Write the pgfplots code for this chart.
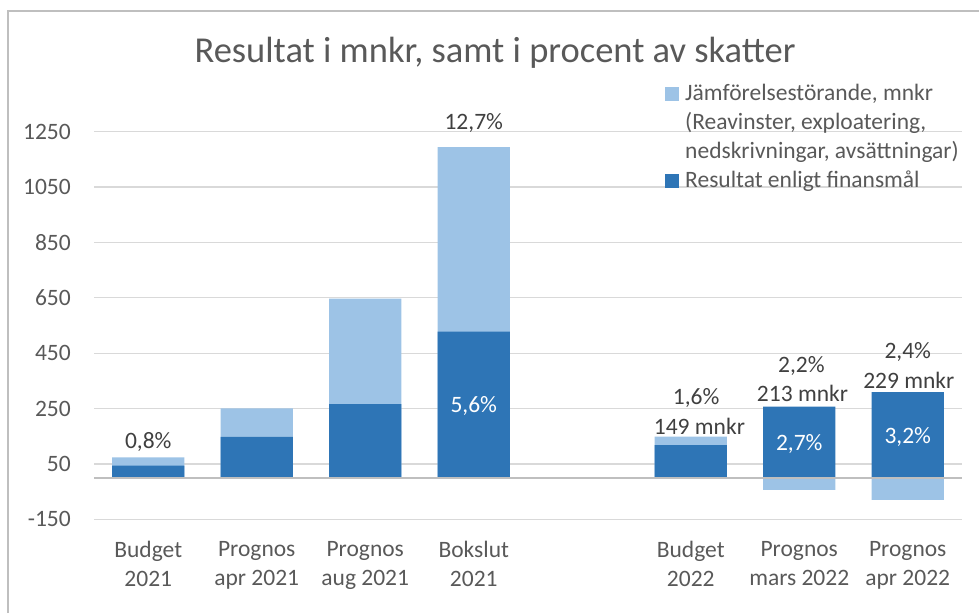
\documentclass[border=0pt]{standalone}
\usepackage{fontspec}
\setmainfont{Carlito}
\usepackage{pgfplots}
\pgfplotsset{compat=1.18}
\usepackage{pgfplotstable}
\definecolor{darkblue}{HTML}{2E75B6}
\definecolor{lightblue}{HTML}{9DC3E6}
\definecolor{txt}{HTML}{595959}
\definecolor{lbl}{HTML}{404040}
\definecolor{gridc}{HTML}{D9D9D9}
\definecolor{zeroc}{HTML}{BFBFBF}
\newcommand{\fs}{\fontsize{23.5}{29}\selectfont}

% x: category position, dark: Resultat enligt finansmål, light: Jämförelsestörande
\pgfplotstableread{
x dark light
0 44 30
1 148 103
2 266 381
3 528 666
5 118 31
6 257 -44
7 309 -80
}\resdata

\begin{document}
\begin{tikzpicture}[x=1pt,y=1pt]
\useasboundingbox (0,0) rectangle (979,613);
\draw[zeroc, line width=1.5pt] (8,0) -- (8,602) -- (979,602);
\node[text=txt, font=\fontsize{36.5}{40}\selectfont] at (495,560) {Resultat i mnkr, samt i procent av skatter};
\begin{axis}[
  at={(94pt,93.7pt)}, anchor=south west,
  scale only axis, width=868pt, height=387.6pt,
  xmin=-0.5, xmax=7.5, ymin=-150, ymax=1250,
  ytick={-150,50,250,450,650,850,1050,1250},
  xtick={0,1,2,3,5,6,7},
  xticklabels={{Budget\\2021},{Prognos\\apr 2021},{Prognos\\aug 2021},{Bokslut\\2021},{Budget\\2022},{Prognos\\mars 2022},{Prognos\\apr 2022}},
  axis line style={draw=none},
  major tick length=0pt,
  ymajorgrids, grid style={gridc, line width=1.3pt},
  /pgf/number format/assume math mode=true,
  /pgf/number format/1000 sep={},
  yticklabel style={font=\fs, text=txt, anchor=east, inner sep=0pt, xshift=-23pt},
  xticklabel style={font=\fs, text=txt, align=center, anchor=north, inner sep=0pt, yshift=-22pt},
  ybar, bar shift=0pt, bar width=0.664,
  clip=false,
]
\addplot[fill=lightblue, draw=none] table[x=x, y expr={(\thisrow{light}>0) ? (\thisrow{dark}+\thisrow{light}) : (\thisrow{light})}] {\resdata};
\addplot[fill=darkblue, draw=none] table[x=x, y=dark] {\resdata};
\draw[zeroc, line width=1.5pt] (axis cs:-0.5,0) -- (axis cs:7.5,0);
\begin{scope}[every node/.style={font=\fs, text=lbl}]
\node at (axis cs:0,130) {0,8\%};
\node at (axis cs:3,1281) {12,7\%};
\node[text=white] at (axis cs:3,259) {5,6\%};
\node at (axis cs:5.05,288) {1,6\%};
\node at (axis cs:5.08,185) {149 mnkr};
\node at (axis cs:6.02,404) {2,2\%};
\node at (axis cs:6.03,303) {213 mnkr};
\node[text=white] at (axis cs:6,122) {2,7\%};
\node at (axis cs:7,455) {2,4\%};
\node at (axis cs:7.01,353) {229 mnkr};
\node[text=white] at (axis cs:7,147) {3,2\%};
\end{scope}
\end{axis}
% legend
\fill[lightblue] (665,512) rectangle (679,526);
\fill[darkblue] (665,424.5) rectangle (679,438.5);
\begin{scope}[every node/.style={font=\fs, text=txt, anchor=base west, inner sep=0pt}]
\node at (685,512) {Jämförelsestörande, mnkr};
\node at (685,483) {(Reavinster, exploatering,};
\node at (685,454) {nedskrivningar, avsättningar)};
\node at (685,425) {Resultat enligt finansmål};
\end{scope}
\end{tikzpicture}
\end{document}
